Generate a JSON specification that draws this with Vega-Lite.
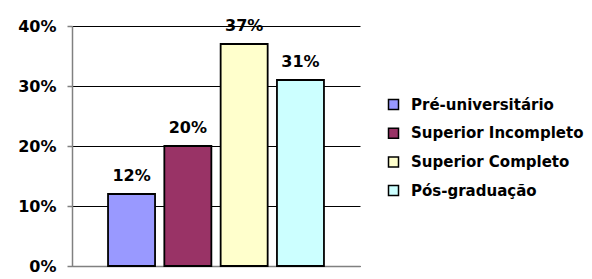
{
  "$schema": "https://vega.github.io/schema/vega-lite/v6.json",
  "width": 288,
  "height": 240,
  "autosize": {"type": "none"},
  "padding": {"left": 72, "top": 26, "right": 232, "bottom": 13},
  "background": "white",
  "config": {
    "view": {"stroke": null},
    "font": "DejaVu Sans"
  },
  "data": {
    "values": [
      {"categoria": "Pré-universitário", "valor": 0.12},
      {"categoria": "Superior Incompleto", "valor": 0.20},
      {"categoria": "Superior Completo", "valor": 0.37},
      {"categoria": "Pós-graduação", "valor": 0.31}
    ]
  },
  "encoding": {
    "x": {
      "field": "categoria",
      "type": "nominal",
      "sort": null,
      "scale": {"paddingInner": 0.165, "paddingOuter": 0.64},
      "axis": {
        "title": null,
        "labels": false,
        "ticks": false,
        "domainColor": "#808080",
        "domainWidth": 1.5
      }
    },
    "y": {
      "field": "valor",
      "type": "quantitative",
      "scale": {"domain": [0, 0.4], "nice": false},
      "axis": {
        "title": null,
        "format": ".0%",
        "values": [0, 0.1, 0.2, 0.3, 0.4],
        "grid": true,
        "gridColor": "#000000",
        "gridWidth": 1,
        "gridOpacity": 1,
        "domainColor": "#808080",
        "domainWidth": 1.5,
        "tickColor": "#808080",
        "tickSize": 5,
        "tickWidth": 1.5,
        "labelPadding": 11,
        "labelFont": "DejaVu Sans",
        "labelFontSize": 16,
        "labelFontWeight": "bold",
        "labelColor": "#000000"
      }
    }
  },
  "layer": [
    {
      "mark": {"type": "bar", "stroke": "#000000", "strokeWidth": 1.8},
      "encoding": {
        "color": {
          "field": "categoria",
          "type": "nominal",
          "sort": null,
          "scale": {
            "domain": ["Pré-universitário", "Superior Incompleto", "Superior Completo", "Pós-graduação"],
            "range": ["#9999FF", "#993366", "#FFFFCC", "#CCFFFF"]
          },
          "legend": {
            "title": null,
            "orient": "none",
            "legendX": 314,
            "legendY": 71,
            "padding": 0,
            "symbolType": "square",
            "symbolSize": 100,
            "symbolStrokeColor": "#000000",
            "symbolStrokeWidth": 1.5,
            "symbolOpacity": 1,
            "labelOffset": 10,
            "rowPadding": 11.7,
            "labelFont": "DejaVu Sans",
            "labelFontSize": 15,
            "labelFontWeight": "bold",
            "labelColor": "#000000",
            "labelLimit": 300
          }
        }
      }
    },
    {
      "mark": {
        "type": "text",
        "dy": -13,
        "baseline": "alphabetic",
        "font": "DejaVu Sans",
        "fontSize": 16,
        "fontWeight": "bold",
        "color": "#000000"
      },
      "encoding": {
        "text": {"field": "valor", "type": "quantitative", "format": ".0%"}
      }
    }
  ]
}
